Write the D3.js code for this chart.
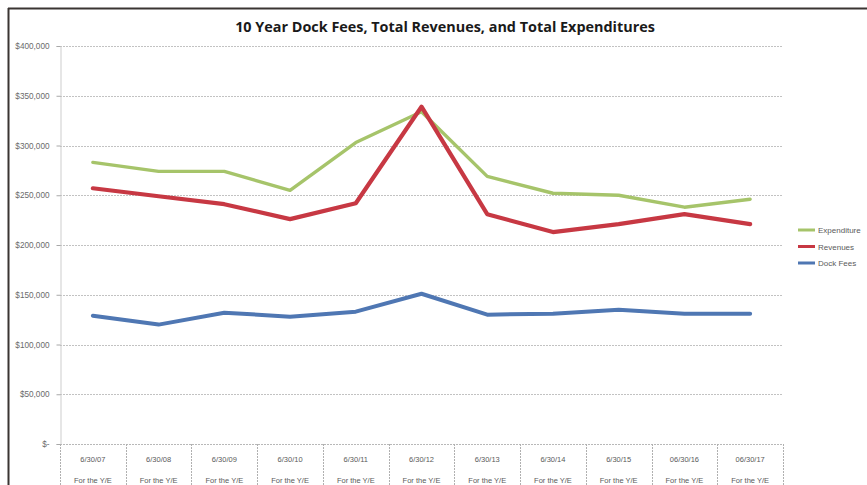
<!DOCTYPE html>
<html>
<head>
<meta charset="utf-8">
<script src="https://cdn.jsdelivr.net/npm/d3@7"></script>
<style>
  html, body { margin: 0; padding: 0; background: #fff; }
  svg { display: block; }
</style>
</head>
<body>
<svg id="chart" width="867" height="485"></svg>
<script>
// Fiscal year-end dates shown on the category axis
const categories = ["6/30/07", "6/30/08", "6/30/09", "6/30/10", "6/30/11", "6/30/12",
                    "6/30/13", "6/30/14", "6/30/15", "06/30/16", "06/30/17"];
const categorySubLabel = "For the Y/E";

// Annual totals in dollars
const expenditures = [283000, 274000, 274000, 255000, 303000, 334000, 269000, 252000, 250000, 238000, 246000];
const revenues     = [257000, 249000, 241000, 226000, 242000, 339000, 231000, 213000, 221000, 231000, 221000];
const dockFees     = [129000, 120000, 132000, 128000, 133000, 151000, 130000, 131000, 135000, 131000, 131000];

// Value axis ticks
const yTicks = [0, 50000, 100000, 150000, 200000, 250000, 300000, 350000, 400000];

const title = "10 Year Dock Fees, Total Revenues, and Total Expenditures";

const seriesList = [
  { name: "Expenditure", values: expenditures, color: "#a6c46a", width: 3.4 },
  { name: "Revenues",    values: revenues,     color: "#c73843", width: 4.2 },
  { name: "Dock Fees",   values: dockFees,     color: "#4f77b3", width: 4.0 }
];

const svg = d3.select("#chart");
const plot = { left: 60, right: 783, top: 46, bottom: 444 };

const x = d3.scaleBand().domain(categories).range([plot.left, plot.right]);
const y = d3.scaleLinear().domain([0, 400000]).range([plot.bottom, plot.top]);

const fmt = v => v === 0 ? "$-" : "$" + d3.format(",")(v);

// Outer frame (top and left edges)
svg.append("line").attr("x1", 8).attr("x2", 867).attr("y1", 8.5).attr("y2", 8.5)
  .attr("stroke", "#3a3532").attr("stroke-width", 2);
svg.append("line").attr("x1", 8.5).attr("x2", 8.5).attr("y1", 8).attr("y2", 485)
  .attr("stroke", "#3a3532").attr("stroke-width", 2);

// Title
svg.append("text")
  .attr("x", 445).attr("y", 32)
  .attr("text-anchor", "middle")
  .attr("font-family", "'Open Sans', 'Liberation Sans', sans-serif")
  .attr("font-weight", "bold")
  .attr("font-size", 14.4)
  .attr("fill", "#1a1a1a")
  .text(title);

// Horizontal gridlines
svg.append("g")
  .selectAll("line")
  .data(yTicks.filter(t => t > 0))
  .join("line")
  .attr("x1", plot.left).attr("x2", plot.right)
  .attr("y1", d => Math.round(y(d)) + 0.5).attr("y2", d => Math.round(y(d)) + 0.5)
  .attr("stroke", "#c2c2c2").attr("stroke-width", 1)
  .attr("stroke-dasharray", "2,1");

// Value axis
const yAxis = d3.axisLeft(y).tickValues(yTicks).tickFormat(fmt).tickSize(4).tickPadding(7);
const yg = svg.append("g").attr("transform", `translate(${plot.left + 0.5},0)`).call(yAxis);
yg.select(".domain").attr("stroke", "#cdcdcd");
yg.selectAll(".tick line").attr("stroke", "#a8a8a8");
yg.selectAll(".tick text")
  .attr("font-family", "'Liberation Sans', sans-serif")
  .attr("font-size", 8.2)
  .attr("fill", "#6a6a6a");

// Category axis drawn as a table of labelled cells
const xg = svg.append("g");
xg.append("line")
  .attr("x1", plot.left).attr("x2", plot.right)
  .attr("y1", plot.bottom + 0.5).attr("y2", plot.bottom + 0.5)
  .attr("stroke", "#b8b8b8").attr("stroke-dasharray", "2,1");
const bounds = categories.map(c => x(c)).concat([plot.right]);
xg.selectAll("line.sep")
  .data(bounds)
  .join("line")
  .attr("class", "sep")
  .attr("x1", d => Math.round(d) + 0.5).attr("x2", d => Math.round(d) + 0.5)
  .attr("y1", plot.bottom).attr("y2", 485)
  .attr("stroke", "#b0b0b0").attr("stroke-dasharray", "2,1");
const cell = xg.selectAll("g.cat")
  .data(categories)
  .join("g")
  .attr("class", "cat")
  .attr("transform", d => `translate(${x(d) + x.bandwidth() / 2},0)`);
cell.append("text")
  .attr("y", 462)
  .attr("text-anchor", "middle")
  .attr("font-family", "'Liberation Sans', sans-serif")
  .attr("font-size", 7.5)
  .attr("fill", "#5a5a5a")
  .text(d => d);
cell.append("text")
  .attr("y", 483)
  .attr("text-anchor", "middle")
  .attr("font-family", "'Liberation Sans', sans-serif")
  .attr("font-size", 7.5)
  .attr("fill", "#5a5a5a")
  .text(categorySubLabel);

// Series lines (expenditure first so revenues sit on top)
const line = d3.line()
  .x((d, i) => x(categories[i]) + x.bandwidth() / 2)
  .y(d => y(d));

svg.append("g")
  .selectAll("path")
  .data(seriesList)
  .join("path")
  .attr("d", d => line(d.values))
  .attr("fill", "none")
  .attr("stroke", d => d.color)
  .attr("stroke-width", d => d.width)
  .attr("stroke-linejoin", "round")
  .attr("stroke-linecap", "round");

// Legend
const legend = svg.append("g").attr("transform", "translate(798,230)");
const item = legend.selectAll("g")
  .data(seriesList)
  .join("g")
  .attr("transform", (d, i) => `translate(0,${i * 16.5})`);
item.append("line")
  .attr("x1", 0).attr("x2", 17)
  .attr("stroke", d => d.color)
  .attr("stroke-width", 3);
item.append("text")
  .attr("x", 20).attr("y", 3)
  .attr("font-family", "'Liberation Sans', sans-serif")
  .attr("font-size", 8)
  .attr("fill", "#5a5a5a")
  .text(d => d.name);
</script>
</body>
</html>
